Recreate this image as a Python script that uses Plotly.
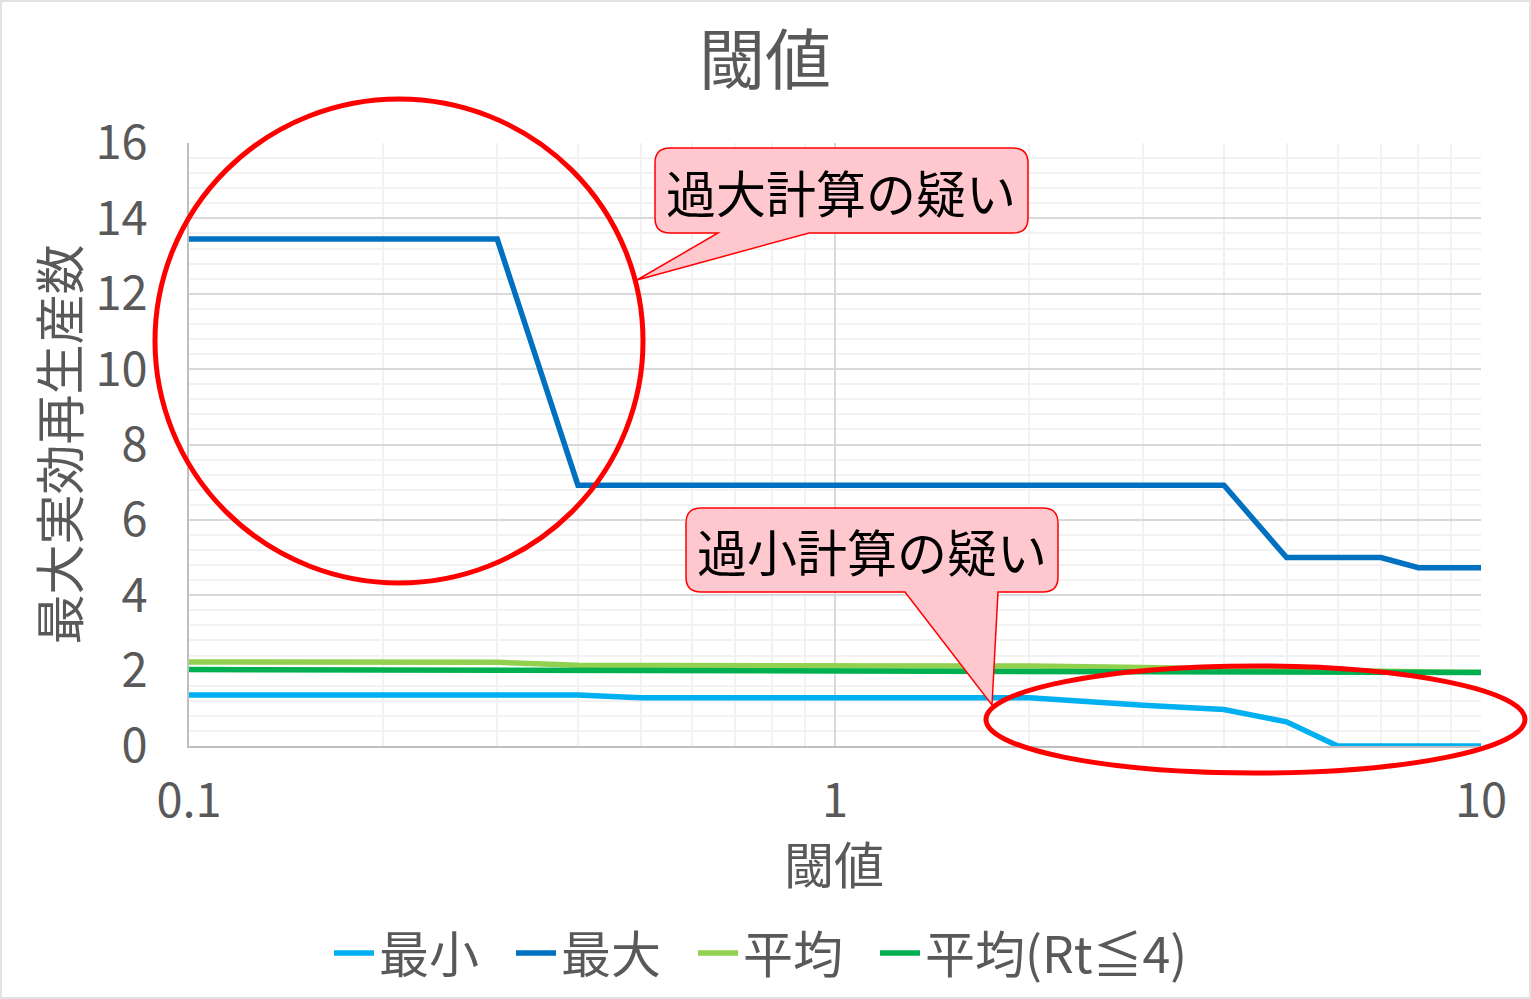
import plotly.graph_objects as go

# ---- data ----
thresholds = [0.1, 0.2, 0.3, 0.4, 0.5, 0.6, 0.7, 0.8, 0.9, 1, 2, 3, 4, 5, 6, 7, 8, 9, 10]
r_min = [1.35, 1.35, 1.35, 1.35, 1.28, 1.28, 1.28, 1.28, 1.28, 1.28, 1.28, 1.08, 0.97, 0.64, 0, 0, 0, 0, 0]
r_max = [13.45, 13.45, 13.45, 6.92, 6.92, 6.92, 6.92, 6.92, 6.92, 6.92, 6.92, 6.92, 6.92, 5.0, 5.0, 5.0, 4.73, 4.73, 4.73]
r_avg = [2.23, 2.23, 2.22, 2.14, 2.14, 2.14, 2.14, 2.14, 2.14, 2.14, 2.12, 2.08, 2.04, 2.01, 1.99, 1.97, 1.96, 1.96, 1.96]
r_avg4 = [2.03, 2.02, 2.01, 2.0, 2.0, 2.0, 2.0, 2.0, 2.0, 2.0, 2.0, 1.99, 1.98, 1.97, 1.96, 1.95, 1.95, 1.95, 1.95]
series_names = ["最小", "最大", "平均", "平均(Rt≦4)"]
series_colors = ["#00B0F0", "#0070C0", "#92D050", "#00B050"]
x_tickvals = [0.1, 1, 10]
x_ticktext = ["0.1", "1", "10"]
x_minor = [0.2, 0.3, 0.4, 0.5, 0.6, 0.7, 0.8, 0.9, 2, 3, 4, 5, 6, 7, 8, 9]
callout_texts = ["過大計算の疑い", "過小計算の疑い"]
x_title = "閾値"
y_title = "最大実効再生産数"
chart_title = "閾値"

FONT = "Noto Sans CJK JP"
GRAY = "#595959"
W, H = 1531, 999
L, R, T, B = 189, 1481, 143, 746
PW, PH = R - L, B - T


def px(x):
    return (x - L) / PW


def py(y):
    return (B - y) / PH


fig = go.Figure()
legend_widths = [127, 127, 127, None]
for name, vals, col, lw in zip(series_names, [r_min, r_max, r_avg, r_avg4], series_colors, legend_widths):
    tr = go.Scatter(x=thresholds, y=vals, mode="lines", name=name,
                    line=dict(color=col, width=5.5))
    if lw is not None:
        tr.legendwidth = lw
    fig.add_trace(tr)


def callout_path(x0, y0, x1, y1, r, tb1, tb2, tip):
    pts = [
        ("M", [(x0 + r, y0)]),
        ("L", [(x1 - r, y0)]),
        ("Q", [(x1, y0), (x1, y0 + r)]),
        ("L", [(x1, y1 - r)]),
        ("Q", [(x1, y1), (x1 - r, y1)]),
        ("L", [(tb2, y1)]),
        ("L", [tip]),
        ("L", [(tb1, y1)]),
        ("L", [(x0 + r, y1)]),
        ("Q", [(x0, y1), (x0, y1 - r)]),
        ("L", [(x0, y0 + r)]),
        ("Q", [(x0, y0), (x0 + r, y0)]),
    ]
    s = ""
    for cmd, ps in pts:
        s += cmd + " " + " ".join(f"{px(a):.5f},{py(b):.5f}" for a, b in ps) + " "
    return s + "Z"


shapes = []
# outer chart border
shapes.append(dict(type="rect", xref="paper", yref="paper",
                   x0=px(1), x1=px(W - 1), y0=py(H - 1), y1=py(1),
                   line=dict(color="#D9D9D9", width=1.5), fillcolor="rgba(0,0,0,0)", layer="below"))
# ellipses
shapes.append(dict(type="circle", xref="paper", yref="paper",
                   x0=px(155), x1=px(643), y0=py(583), y1=py(99),
                   line=dict(color="#FF0000", width=5)))
shapes.append(dict(type="circle", xref="paper", yref="paper",
                   x0=px(986), x1=px(1525), y0=py(773), y1=py(666),
                   line=dict(color="#FF0000", width=5)))
# callouts
boxes = [
    (655, 148, 1028, 233, 718, 809, (637, 280)),
    (686, 508, 1058, 592, 905, 998, (992, 705)),
]
annotations = []
for (x0, y0, x1, y1, tb1, tb2, tip), txt in zip(boxes, callout_texts):
    shapes.append(dict(type="path", xref="paper", yref="paper",
                       path=callout_path(x0, y0, x1, y1, 15, tb1, tb2, tip),
                       fillcolor="#FFC7CE", line=dict(color="#FF0000", width=1.5)))
    annotations.append(dict(xref="paper", yref="paper", x=px((x0 + x1) / 2), y=py((y0 + y1) / 2),
                            text=txt, showarrow=False, xanchor="center", yanchor="middle",
                            font=dict(family=FONT, size=50, color="#000000")))
# x axis title
annotations.append(dict(xref="paper", yref="paper", x=px(834), y=py(862),
                        text=x_title, showarrow=False, xanchor="center", yanchor="middle",
                        font=dict(family=FONT, size=50, color=GRAY)))

fig.update_layout(
    width=W, height=H,
    margin=dict(l=L, r=W - R, t=T, b=H - B, autoexpand=False),
    paper_bgcolor="white", plot_bgcolor="white",
    font=dict(family=FONT, color=GRAY, size=47),
    title=dict(text=chart_title, x=765 / W, xref="container", xanchor="center",
               y=1 - 61 / H, yref="container", yanchor="middle",
               font=dict(family=FONT, size=66, color=GRAY)),
    xaxis=dict(type="log", range=[-1, 1], tickvals=x_tickvals, ticktext=x_ticktext,
               showgrid=True, gridcolor="#D9D9D9", gridwidth=1.5,
               showline=True, linecolor="#BFBFBF", linewidth=2,
               ticks="", ticklabelstandoff=13,
               tickfont=dict(family=FONT, size=47, color=GRAY),
               minor=dict(tickvals=x_minor, showgrid=True, gridcolor="#F2F2F2", gridwidth=1.5, ticks=""),
               zeroline=False, automargin=False),
    yaxis=dict(range=[0, 16], dtick=2, tick0=0,
               showgrid=True, gridcolor="#D9D9D9", gridwidth=1.5,
               showline=True, linecolor="#BFBFBF", linewidth=2,
               ticks="", ticklabelstandoff=30,
               tickfont=dict(family=FONT, size=47, color=GRAY),
               minor=dict(dtick=0.4, showgrid=True, gridcolor="#F2F2F2", gridwidth=1.5, ticks=""),
               title=dict(text=y_title, standoff=0, font=dict(family=FONT, size=50, color=GRAY)),
               zeroline=False, automargin=False),
    legend=dict(orientation="h", xref="container", yref="container",
                x=329 / W, xanchor="left", y=1 - 953 / H, yanchor="middle",
                font=dict(family=FONT, size=50, color=GRAY),
                bgcolor="rgba(0,0,0,0)", itemwidth=40, tracegroupgap=0),
    shapes=shapes,
    annotations=annotations,
)

fig.write_html("out.html", config={"displayModeBar": False},
               post_script="document.body.style.margin='0';document.body.style.overflow='hidden';")
